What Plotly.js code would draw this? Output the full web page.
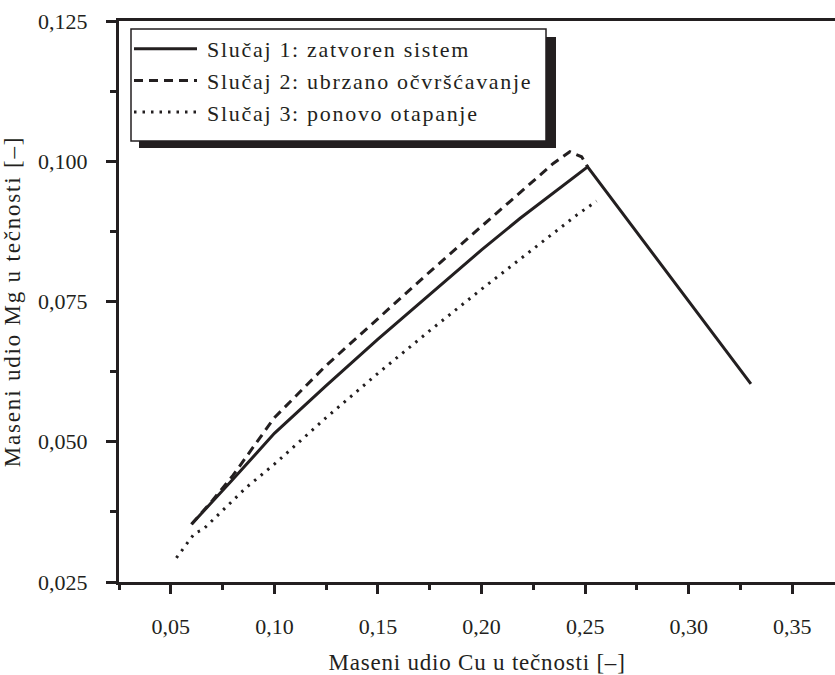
<!DOCTYPE html>
<html><head><meta charset="utf-8">
<script src="https://cdn.plot.ly/plotly-3.0.1.min.js"></script>
<style>
html,body{margin:0;padding:0;background:#fff;overflow:hidden}
#chart .legendtext{letter-spacing:1.7px}
#chart .legend .scrollbox{clip-path:none !important}
#chart .xtitle{letter-spacing:0.8px}
#chart .ytitle{letter-spacing:1.8px}
</style>
</head><body><div id="chart" style="width:835px;height:675px"></div>
<script>
// Case 1: closed system (solid)
const case1Cu = [0.060, 0.070, 0.080, 0.100, 0.125, 0.150, 0.175, 0.200, 0.2185, 0.235, 0.2512, 0.330];
const case1Mg = [0.0353, 0.0393, 0.0433, 0.0515, 0.0600, 0.0683, 0.0763, 0.0842, 0.0898, 0.0945, 0.0990, 0.0603];
// Case 2: accelerated solidification (dashed)
const case2Cu = [0.060, 0.070, 0.080, 0.100, 0.125, 0.150, 0.175, 0.200, 0.2195, 0.2346, 0.2426, 0.2483, 0.2512];
const case2Mg = [0.0353, 0.0395, 0.0440, 0.0543, 0.0636, 0.0720, 0.0803, 0.0884, 0.0948, 0.0996, 0.1017, 0.1008, 0.0990];
// Case 3: remelting (dotted)
const case3Cu = [0.0527, 0.0615, 0.0654, 0.0866, 0.100, 0.125, 0.150, 0.175, 0.200, 0.225, 0.2459, 0.2555];
const case3Mg = [0.0293, 0.0337, 0.0343, 0.0419, 0.0460, 0.0543, 0.0622, 0.0698, 0.0772, 0.0843, 0.0904, 0.0929];

const seriesNames = ['Slučaj 1: zatvoren sistem', 'Slučaj 2: ubrzano očvršćavanje', 'Slučaj 3: ponovo otapanje'];
const xTitle = 'Maseni udio Cu u tečnosti [–]';
const yTitle = 'Maseni udio Mg u tečnosti [–]';

const INK = '#231f20';
const FONT = 'Liberation Serif, Times New Roman, serif';

const traces = [
  {x: case1Cu, y: case1Mg, name: seriesNames[0], mode: 'lines', line: {color: INK, width: 3}},
  {x: case2Cu, y: case2Mg, name: seriesNames[1], mode: 'lines', line: {color: INK, width: 3, dash: '9px,6px'}},
  {x: case3Cu, y: case3Mg, name: seriesNames[2], mode: 'lines', line: {color: INK, width: 3, dash: '2.5px,6px'}}
];

const L = 119, W = 716, T = 21, H = 561;
const px = v => (v - L) / W;
const py = v => (T + H - v) / H;

const layout = {
  width: 835, height: 675,
  margin: {l: L, r: 0, t: T, b: 675 - T - H, pad: 0},
  paper_bgcolor: '#fff', plot_bgcolor: '#fff',
  separators: ',.',
  font: {family: FONT, color: INK, size: 22},
  showlegend: true,
  legend: {
    x: px(131), y: py(28), xanchor: 'left', yanchor: 'top',
    bgcolor: 'rgba(0,0,0,0)', borderwidth: 0,
    font: {family: FONT, size: 22, color: INK},
    itemwidth: 66, tracegroupgap: 0,
    entrywidth: 410, entrywidthmode: 'pixels'
  },
  xaxis: {
    range: [0.025, 0.3706], dtick: 0.05, tick0: 0, tickformat: '.2f',
    showline: true, linewidth: 3, linecolor: INK, mirror: true,
    ticks: 'outside', ticklen: 9, tickwidth: 3, tickcolor: INK,
    minor: {dtick: 0.025, tick0: 0, ticks: 'outside', ticklen: 5, tickwidth: 3, tickcolor: INK, showgrid: false},
    showgrid: false, zeroline: false, ticklabelstandoff: 14,
    tickfont: {family: FONT, size: 22, color: INK},
    title: {text: xTitle, font: {family: FONT, size: 23, color: INK}, standoff: 17}
  },
  yaxis: {
    range: [0.025, 0.125], dtick: 0.025, tick0: 0, tickformat: '.3f',
    showline: true, linewidth: 3, linecolor: INK, mirror: false,
    ticks: 'outside', ticklen: 10, tickwidth: 3, tickcolor: INK,
    minor: {dtick: 0.0125, tick0: 0, ticks: 'outside', ticklen: 6, tickwidth: 3, tickcolor: INK, showgrid: false},
    showgrid: false, zeroline: false, ticklabelstandoff: 14,
    tickfont: {family: FONT, size: 22, color: INK},
    title: {text: yTitle, font: {family: FONT, size: 23, color: INK}, standoff: 19}
  },
  shapes: [
    {type: 'rect', xref: 'paper', yref: 'paper', x0: px(139), x1: px(556), y0: py(148), y1: py(37),
     fillcolor: INK, line: {width: 0}, layer: 'above'},
    {type: 'rect', xref: 'paper', yref: 'paper', x0: px(131), x1: px(546), y0: py(141), y1: py(29),
     fillcolor: '#fff', line: {color: INK, width: 1.5}, layer: 'above'}
  ]
};

const gd = document.getElementById('chart');
function patchLegend() {
  gd.querySelectorAll('.legend path.legendlines, .legend path.js-line').forEach(p => p.setAttribute('d', 'M3,0h63'));
}
Plotly.newPlot(gd, traces, layout, {displayModeBar: false, staticPlot: true}).then(() => {
  patchLegend();
  gd.on && gd.on('plotly_afterplot', patchLegend);
});
</script>
</body></html>
